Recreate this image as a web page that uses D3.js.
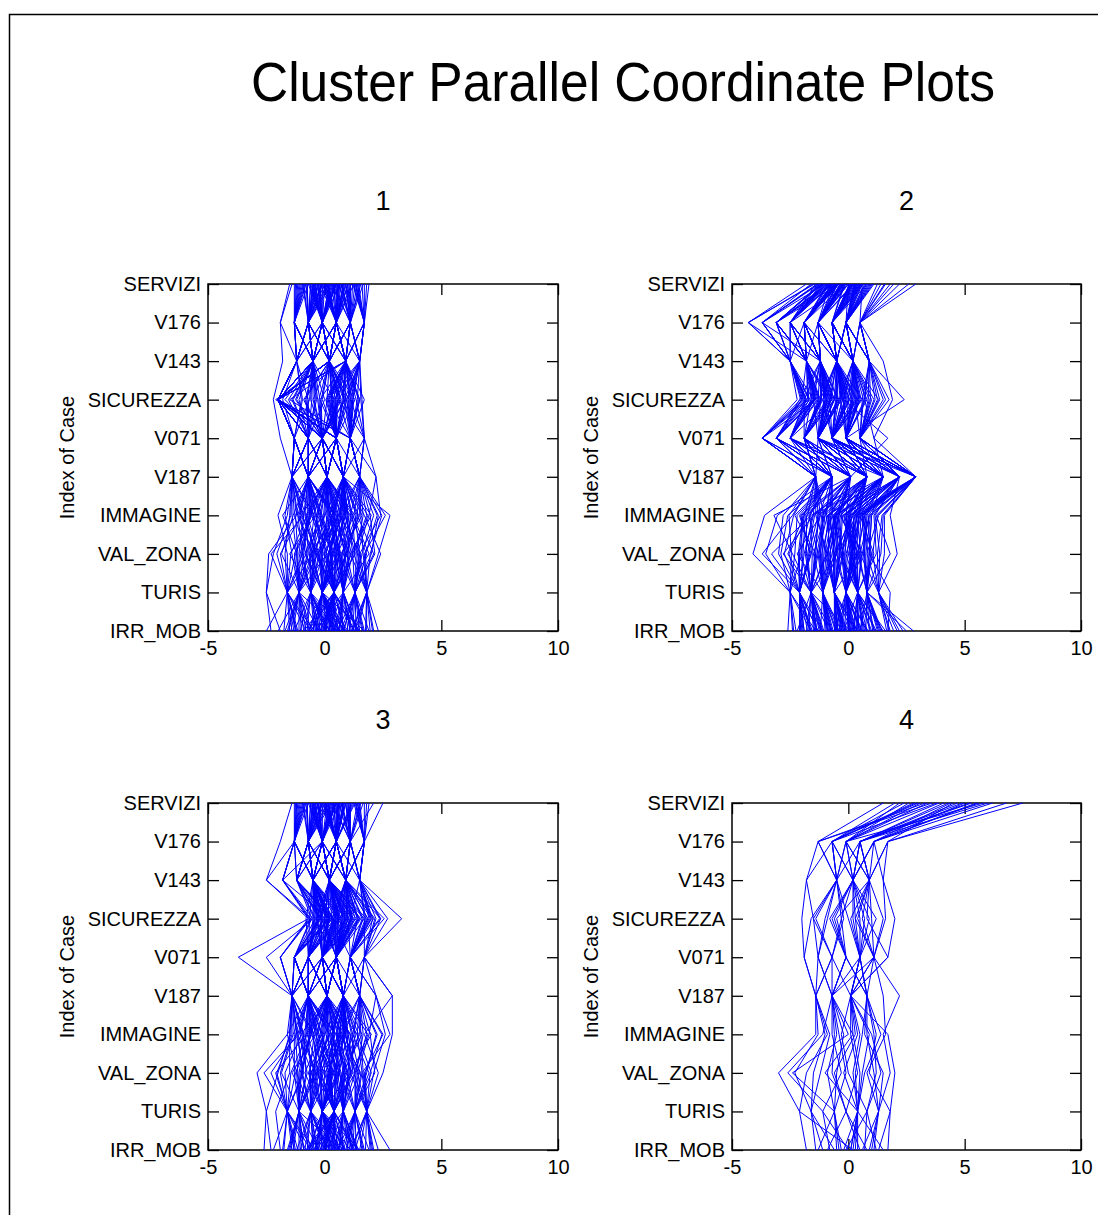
<!DOCTYPE html>
<html>
<head>
<meta charset="utf-8">
<script src="https://cdn.jsdelivr.net/npm/d3@7/dist/d3.min.js"></script>
<style>
  html, body { margin: 0; padding: 0; background: #fff; }
  svg { display: block; font-family: "Liberation Sans", Arial, Helvetica, sans-serif; }
</style>
</head>
<body>
<svg id="chart" width="1098" height="1215"></svg>
<script>
// Variables, listed from the top of each panel to the bottom
const variables = ["SERVIZI", "V176", "V143", "SICUREZZA", "V071", "V187", "IMMAGINE", "VAL_ZONA", "TURIS", "IRR_MOB"];
const xTicks = [-5, 0, 5, 10];
const clusterNames = ["1", "2", "3", "4"];

// Standardised scores per case, in the order of `variables`
const cluster1 = [
  [0.3,-0.1,0.2,-2.0,-0.1,0.1,0.5,0.2,-0.1,0.4],
  [1.2,1.1,0.9,0.6,1.1,0.8,1.4,0.9,0.8,1.1],
  [-0.8,-0.7,-0.5,-2.0,-0.7,-1.4,-0.9,-1.1,-0.6,-0.3],
  [0.6,0.5,0.2,0.3,0.5,0.1,0.2,0.6,0.4,0.9],
  [-0.2,-0.1,-0.5,-1.2,-0.1,-0.7,-0.4,0.1,-1.1,-0.8],
  [1.6,1.7,1.5,1.2,1.1,1.5,2.1,1.6,1.3,1.5],
  [0.1,0.5,0.9,-2.0,0.5,0.8,0.9,0.3,0.4,-0.2],
  [-1.3,-1.3,-1.2,-2.0,-1.3,-1.4,-1.5,-1.7,-1.6,-1.2],
  [0.9,1.1,0.2,0.9,-0.1,0.1,1.2,1.9,0.8,0.6],
  [0.4,-0.1,-0.5,-0.4,-0.7,-0.7,0.3,-0.2,-0.1,1.7],
  [-0.5,-0.7,0.2,-2.0,0.5,0.1,-0.8,-0.4,-0.6,0.2],
  [1.0,0.5,0.9,1.5,1.1,1.5,1.8,1.2,1.3,0.8],
  [-1.1,-1.3,-0.5,-0.8,-0.7,-1.4,-1.2,-2.4,-2.5,-1.9],
  [0.7,1.1,1.5,0.4,0.5,0.8,0.4,0.9,0.4,1.3],
  [0.0,-0.1,0.2,-2.0,-0.1,0.1,-0.3,-0.6,-0.1,-0.5],
  [1.9,1.7,0.9,1.7,1.1,0.8,2.8,2.3,1.8,2.3],
  [-0.4,-0.7,-1.2,-2.0,-1.3,-0.7,-0.6,-1.3,-1.1,-1.0],
  [0.5,0.5,0.2,-0.1,0.5,0.8,1.0,0.5,0.4,0.3],
  [-1.5,-1.9,-1.8,-2.2,-1.9,-1.4,-2.0,-1.6,-1.6,-2.5],
  [1.3,1.1,0.9,0.8,0.5,1.5,2.3,2.0,1.3,1.6],
  [0.2,-0.1,-0.5,-2.0,-0.7,0.1,0.6,-0.2,-0.6,0.0],
  [-0.6,-0.7,0.2,0.1,-0.1,-0.7,-0.1,0.4,-0.1,-0.7],
  [0.8,0.5,0.9,-2.0,1.1,0.8,0.2,1.1,0.8,0.5],
  [-0.1,0.5,-0.5,-0.6,-0.1,0.1,-0.7,-0.9,-1.1,0.7],
  [1.4,1.7,1.5,1.1,1.7,2.2,1.9,1.4,1.8,1.2],
  [-0.9,-1.3,-1.2,-2.0,-1.3,-0.7,-1.1,-0.5,-1.6,-1.4],
  [0.5,-0.1,0.2,0.6,-0.1,0.8,0.8,0.0,0.4,-0.3],
  [-0.3,-0.7,-0.5,-2.0,0.5,0.1,0.0,-0.8,-0.1,0.6],
  [1.1,1.1,0.2,1.3,0.5,0.1,1.3,1.5,1.3,1.9],
  [0.0,0.5,0.9,-1.5,1.1,1.5,0.6,-0.3,0.4,-0.9],
  [-0.7,-0.1,-0.5,-2.0,-0.7,-1.4,-1.4,-1.2,-1.1,-1.6],
  [0.6,1.1,0.9,0.2,0.5,0.8,1.6,0.7,0.8,1.0],
  [0.3,-0.7,-1.2,-1.0,-1.3,-0.7,-0.5,0.2,-0.6,0.1],
  [1.7,1.7,1.5,1.0,1.1,1.5,1.1,1.8,1.3,0.8],
  [-1.0,-1.3,-0.5,-2.0,-0.1,0.1,-1.0,-1.9,-1.6,-0.6],
  [0.9,0.5,0.2,0.7,-0.1,-0.7,0.4,0.6,0.8,1.4],
  [-0.2,-0.1,0.9,-0.2,0.5,0.8,0.7,1.0,-0.1,-0.4],
  [0.4,0.5,-0.5,-2.0,-0.7,-0.7,-0.2,0.3,0.4,0.2],
  [1.5,1.1,1.5,1.4,1.1,0.8,1.7,2.4,1.8,1.8],
  [-0.5,-0.1,0.2,-0.9,-0.1,-1.4,-0.8,-0.7,-1.1,-1.1],
  [0.2,-0.7,-0.5,0.0,-0.7,0.1,0.1,-0.1,-0.1,0.5],
  [-1.2,-1.3,-1.2,-2.0,-1.3,-1.4,-1.7,-1.4,-1.1,-2.0],
  [0.7,1.1,0.9,0.5,0.5,0.1,0.9,1.3,0.4,-0.1],
  [1.0,0.5,0.2,-2.0,1.1,1.5,1.5,0.8,1.3,1.2],
  [-0.4,-0.1,-0.5,-0.3,-0.1,0.1,-0.6,-1.0,-0.6,-1.3],
  [0.1,0.5,0.9,0.9,0.5,0.8,0.3,0.5,-0.1,0.8],
  [-0.8,-1.3,-0.5,-2.0,-0.7,-0.7,-0.9,-2.3,-1.6,-0.8],
  [1.2,1.7,1.5,1.6,1.7,1.5,2.6,1.7,1.8,2.1],
  [0.5,-0.1,0.2,-0.5,-0.1,0.8,0.0,-0.4,0.4,0.0],
  [-0.1,-0.7,-1.2,-2.0,-1.3,-1.4,-1.3,-0.8,-1.6,-1.5],
  [0.8,0.5,0.9,0.1,0.5,0.1,1.1,1.0,0.8,0.4],
  [0.3,1.1,0.2,-2.0,-0.1,0.8,0.2,0.7,-0.1,1.0],
  [-0.6,-0.1,-0.5,-1.4,-0.7,-0.7,-0.4,-1.5,-0.6,-0.2],
  [1.4,1.1,1.5,1.2,1.1,1.5,1.4,2.1,1.3,1.7],
  [0.0,-0.7,0.2,-2.1,0.5,0.1,-0.5,0.1,0.4,-0.6],
  [-1.4,-1.9,-1.2,-1.8,-1.3,-1.4,-1.6,-2.2,-2.5,-2.3],
  [0.6,0.5,-0.5,0.4,-0.1,0.1,0.7,0.2,-0.1,0.3],
  [1.8,1.7,0.9,1.5,1.1,2.2,2.4,1.5,1.8,1.4],
  [-0.3,-0.1,0.2,-2.0,-0.1,-0.7,0.3,-0.5,-0.6,0.9],
  [0.4,0.5,0.9,0.8,0.5,0.8,0.9,0.4,0.8,-0.4],
  [-0.9,-0.7,-0.5,-2.0,-1.3,-0.7,-1.8,-1.2,-1.1,-0.9],
  [1.1,1.1,0.2,0.3,0.5,0.8,1.2,1.3,0.4,1.5],
  [0.2,-0.1,-1.2,-0.7,-0.7,0.1,-0.2,0.0,-0.1,0.1],
  [-0.2,0.5,0.2,-2.0,0.5,-0.7,0.5,0.9,0.4,-0.7],
  [0.9,0.5,0.9,1.1,1.1,1.5,0.8,0.6,1.3,0.7],
  [-0.7,-1.3,-0.5,-1.1,-0.7,-1.4,-1.0,-0.3,-1.1,-1.7],
  [0.5,-0.1,0.2,-2.0,-0.1,0.1,0.4,-0.6,-0.6,0.2],
  [1.3,1.7,1.5,0.6,1.7,0.8,2.0,1.1,1.8,1.3],
  [-0.1,-0.7,-0.5,-0.2,-0.1,0.1,-0.3,0.3,-0.1,-0.5],
  [0.7,0.5,0.2,-2.0,0.5,0.8,1.0,1.2,0.8,0.6],
  [0.15,0.5,-0.5,-1.7,-0.1,0.8,0.35,-0.15,0.4,0.55],
  [-0.45,-0.1,0.2,0.45,0.5,-0.7,-0.25,0.65,-0.1,-0.15],
  [1.05,1.1,1.5,0.95,1.1,1.5,1.65,1.35,1.3,1.05],
  [-0.95,-0.7,-1.2,-2.0,-0.7,-1.4,-1.15,-0.95,-1.6,-1.25],
  [0.65,-0.1,0.9,0.25,0.5,0.1,0.55,0.85,0.8,0.15],
  [-0.25,-0.7,-0.5,-0.65,-1.3,-0.7,-0.85,-0.45,-0.6,0.45],
  [1.45,1.7,0.9,1.35,1.7,1.5,2.25,1.75,1.8,1.95],
  [0.05,0.5,0.2,-2.0,-0.1,0.1,-0.15,0.35,-0.1,-0.35],
  [-1.25,-1.3,-0.5,-1.55,-0.7,-0.7,-1.35,-1.85,-1.1,-1.55],
  [0.85,0.5,0.2,0.55,0.5,0.8,0.75,0.15,0.4,1.25],
  [-0.55,-0.1,-1.2,-2.0,-1.3,-0.7,-0.65,-1.05,-1.1,-0.65],
  [0.35,1.1,0.9,0.75,0.5,0.1,1.05,0.45,0.8,0.65],
  [1.25,0.5,1.5,0.15,1.1,0.8,0.65,1.55,1.3,1.35],
  [-0.75,-0.7,0.2,-2.0,-0.1,-1.4,-0.45,-0.65,-0.6,-1.05],
  [0.45,-0.1,-0.5,-0.35,-0.7,0.1,0.15,-0.25,-0.1,0.85],
  [-0.05,0.5,0.2,1.05,0.5,0.8,1.35,0.75,0.4,-0.05],
  [1.65,1.1,0.9,1.45,1.1,1.5,1.95,2.15,1.3,1.65],
  [-1.05,-1.3,-1.2,-2.0,-1.3,-0.7,-0.75,-1.45,-1.6,-0.45],
  [0.25,-0.1,0.2,-0.85,-0.1,0.1,0.45,0.05,0.4,0.35],
  [0.75,1.1,0.2,0.65,-0.1,0.8,0.95,1.05,0.8,0.75],
  [-0.35,-0.7,-0.5,-2.0,-0.7,0.1,-0.35,-0.15,-0.1,-0.25],
  [1.15,0.5,0.9,1.25,1.1,1.5,1.25,0.55,0.8,1.45],
  [-0.65,-0.1,-0.5,-1.25,-0.1,-0.7,-1.05,-0.75,-1.1,-1.35],
  [0.55,0.5,0.9,0.35,0.5,0.8,0.65,0.95,0.4,0.05],
  [-0.15,-0.7,-1.2,-2.0,-1.3,-1.4,-0.95,-0.35,-0.6,-0.75],
  [1.35,1.7,1.5,0.85,1.1,0.8,1.85,1.25,1.8,1.15],
  [0.0,0.5,-0.5,-0.45,-0.1,0.1,-0.05,-0.55,-0.1,0.25],
  [-0.85,-1.3,-0.5,-2.0,-0.7,-0.7,-1.25,-1.15,-1.1,-0.55],
  [0.95,1.1,0.9,0.45,0.5,0.8,0.85,1.45,1.3,0.95],
  [0.35,-0.1,0.2,-2.0,0.5,0.1,0.25,0.45,0.4,-0.15],
  [-0.45,-0.7,0.2,-0.15,-0.1,-0.7,-0.55,-0.05,-0.6,-0.85],
  [1.55,1.1,1.5,1.55,1.7,1.5,2.45,1.95,1.8,2.05],
  [0.15,0.5,0.9,0.05,0.5,0.8,0.55,0.25,0.4,0.45],
  [-1.15,-1.3,-1.2,-2.0,-1.3,-1.4,-1.45,-2.05,-1.6,-1.75],
  [0.65,0.5,0.2,0.85,-0.1,0.1,0.35,0.65,0.8,1.15],
  [-0.25,-0.1,-0.5,-2.0,-0.7,-0.7,-0.15,-0.85,-0.1,0.35],
  [1.0,1.1,0.9,1.15,1.1,0.8,1.45,0.95,1.3,0.55],
  [-0.6,-0.7,-0.5,-0.55,-0.7,0.1,-0.75,-0.25,-0.6,-0.45],
  [0.45,-0.1,0.2,-2.0,-0.1,0.8,0.65,0.15,-0.1,0.65],
  [-0.95,-1.3,-0.5,-1.35,-0.7,-1.4,-0.55,-1.25,-1.6,-1.15],
  [0.8,0.5,0.9,0.15,0.5,0.1,0.75,1.15,0.4,0.85],
  [0.1,-0.7,-1.2,-2.0,-1.3,-0.7,-0.35,-0.45,-1.1,-0.25],
  [1.25,1.7,0.9,1.05,1.1,1.5,1.55,1.65,1.8,1.75],
  [-0.3,-0.1,0.2,-0.25,-0.1,0.1,0.05,0.55,-0.1,-0.65],
  [0.55,0.5,-0.5,-2.0,0.5,-0.7,0.45,-0.35,0.4,0.15],
  [-0.75,-0.7,-0.5,-0.75,-0.7,-0.7,-1.15,-0.55,-1.1,-1.45],
  [0.9,1.1,0.2,0.95,0.5,0.8,1.15,0.75,0.8,1.35],
  [-0.1,-0.1,0.9,-2.0,0.5,0.1,0.15,0.25,0.4,-0.05],
  [0.3,0.5,0.2,0.35,-0.1,0.8,0.85,0.35,-0.1,0.45],
  [-0.5,-0.7,-1.2,-0.95,-1.3,-0.7,-0.65,-0.95,-0.6,-0.35]
];

const cluster2 = [
  [-0.5,-1.9,-1.2,-0.8,-1.3,0.8,-0.6,-0.9,-0.6,-0.2],
  [0.2,-0.7,-0.5,0.3,-0.7,2.2,0.1,-0.3,-0.1,0.5],
  [-1.2,-3.1,-1.8,-1.5,-3.1,-0.7,-2.1,-1.6,-2.1,-1.1],
  [0.6,0.5,0.2,0.9,0.5,2.9,0.7,0.4,0.4,1.2],
  [-0.8,-1.3,-0.5,-1.1,-1.9,0.1,-1.2,-2.2,-1.1,-0.7],
  [2.9,0.5,0.9,2.4,-0.1,2.9,1.0,0.9,0.8,2.8],
  [-0.1,-2.5,-1.2,-0.4,-1.3,1.5,-0.9,-0.5,-1.6,0.1],
  [-1.8,-4.3,-2.5,-2.2,-3.7,-1.4,-3.6,-4.1,-2.5,-2.6],
  [0.4,-0.1,0.2,-0.2,-0.1,0.8,0.3,0.2,-0.1,-0.4],
  [-0.6,-1.9,-1.8,-1.3,-2.5,-0.7,-1.7,-1.3,-1.6,-1.5],
  [1.1,-0.1,-0.5,0.6,-0.7,2.9,0.5,1.1,0.4,1.6],
  [-0.3,-1.3,-0.5,-0.6,-1.3,0.1,-0.4,-0.8,-0.6,0.3],
  [-1.0,-3.7,-2.5,-1.8,-3.7,-1.4,-2.8,-3.0,-2.1,-1.9],
  [0.1,-0.7,0.2,0.1,-0.1,1.5,0.0,0.5,-0.1,0.8],
  [-0.7,-1.9,-1.2,-1.6,-1.9,0.8,-1.0,-1.5,-1.1,-0.9],
  [1.8,0.5,0.9,1.6,0.5,2.2,1.8,2.1,1.3,2.1],
  [-0.2,-1.3,-1.8,-0.9,-1.3,-0.7,-0.7,-0.2,-0.6,-0.3],
  [-1.4,-2.5,-2.5,-2.0,-3.1,0.1,-1.9,-2.6,-1.6,-2.2],
  [0.3,-0.1,-0.5,0.4,-0.7,2.9,0.4,-0.1,0.4,0.6],
  [-0.9,-1.9,-1.2,-1.2,-1.9,-1.4,-1.5,-1.9,-2.1,-1.3],
  [0.8,-0.7,0.2,1.1,0.5,1.5,0.8,0.7,0.8,1.4],
  [-0.4,-3.1,-1.8,-0.7,-2.5,0.8,-1.1,-1.1,-1.1,-0.5],
  [0.0,-1.3,-0.5,-0.3,-1.3,2.2,-0.2,0.1,-0.1,0.0],
  [-1.1,-2.5,-1.2,-1.9,-1.9,-0.7,-2.3,-1.4,-1.6,-1.7],
  [1.4,0.5,1.5,1.9,1.1,2.9,1.5,1.4,0.8,2.5],
  [-0.6,-1.3,-1.2,-1.0,-1.3,0.1,-0.8,-0.6,-1.1,-0.8],
  [0.5,-0.1,0.2,0.0,-0.1,0.8,0.2,-0.4,0.4,0.2],
  [-1.5,-4.3,-1.8,-1.4,-3.7,-0.7,-2.6,-2.9,-2.5,-1.4],
  [-0.2,-0.7,-0.5,-0.5,-0.7,1.5,-0.5,-0.9,-0.6,0.4],
  [0.9,-0.1,0.9,0.7,-0.1,2.9,0.9,0.6,0.4,1.0],
  [-0.8,-1.9,-2.5,-1.7,-2.5,-1.4,-1.3,-1.7,-2.1,-2.0],
  [0.2,-1.3,-0.5,-0.1,-0.7,0.8,-0.1,0.3,-0.1,-0.6],
  [-1.3,-3.7,-1.2,-2.1,-3.1,0.1,-3.2,-2.4,-1.6,-1.2],
  [0.6,-0.1,0.2,1.3,0.5,2.2,0.6,1.0,0.8,0.9],
  [-0.5,-1.9,-1.8,-0.8,-1.9,-0.7,-1.0,-1.2,-1.1,-1.0],
  [0.1,-0.7,-0.5,0.2,-0.7,1.5,0.2,-0.6,-0.1,0.3],
  [-0.9,-2.5,-1.2,-1.5,-1.3,0.8,-1.6,-3.3,-2.1,-1.6],
  [1.6,0.5,0.2,0.5,-0.1,2.9,1.3,0.8,1.3,1.8],
  [-0.3,-1.3,-1.2,-0.6,-1.9,0.1,-0.3,-0.4,-0.6,-0.1],
  [-0.7,-1.9,-0.5,-1.2,-1.3,-1.4,-1.4,-0.9,-1.6,-0.7],
  [0.4,-0.7,0.2,0.3,0.5,0.8,0.0,0.2,0.4,0.7],
  [-1.1,-3.1,-2.5,-1.8,-2.5,-0.7,-2.0,-2.0,-2.5,-2.4],
  [0.0,-0.1,-0.5,-0.2,-0.1,2.2,-0.6,-0.2,-0.1,-0.3],
  [-0.5,-1.3,-1.2,-1.0,-1.3,1.5,-0.9,-1.3,-1.1,-0.4],
  [2.2,0.5,0.9,1.5,0.5,2.9,1.2,1.8,0.8,1.3],
  [-0.8,-2.5,-1.8,-1.4,-3.1,0.1,-1.8,-1.8,-1.6,-1.1],
  [0.3,-0.7,-0.5,0.0,-0.7,0.8,0.4,0.0,0.4,-0.2],
  [-0.1,-1.3,0.2,-0.4,-0.7,2.2,-0.2,0.6,-0.1,0.6],
  [-1.6,-3.7,-2.5,-1.9,-3.7,-1.4,-2.4,-3.7,-2.1,-2.1],
  [0.7,-0.1,0.2,0.8,-0.1,1.5,0.7,0.4,0.8,1.1],
  [-0.4,-1.9,-1.2,-0.7,-1.9,-0.7,-0.7,-1.0,-0.6,-0.6],
  [0.2,-0.7,-0.5,-0.3,-1.3,2.9,0.1,-0.5,-0.1,0.2],
  [-1.0,-2.5,-1.8,-1.6,-2.5,0.8,-1.3,-1.4,-1.6,-1.8],
  [1.0,-0.1,0.9,0.6,0.5,2.2,1.1,1.2,0.4,1.5],
  [-0.2,-1.3,-0.5,-1.1,-0.7,0.1,-0.4,-0.7,-1.1,-0.9],
  [-0.6,-1.9,-1.2,-1.3,-1.9,-1.4,-1.2,-1.6,-2.1,-1.3],
  [0.5,-0.7,0.2,0.2,-0.1,1.5,0.5,0.1,0.4,0.4],
  [-1.2,-3.1,-1.8,-2.0,-3.1,-0.7,-2.2,-2.3,-2.5,-1.6],
  [0.0,-1.3,-0.5,-0.5,-0.7,0.8,-0.3,0.3,-0.1,0.0],
  [2.6,0.5,0.2,1.0,0.5,2.9,0.9,0.5,1.3,2.2],
  [-0.7,-2.5,-1.2,-0.9,-1.3,0.1,-1.1,-1.2,-1.1,-1.2],
  [0.3,-0.1,-0.5,-0.1,-0.7,2.2,0.3,-0.3,0.4,0.8],
  [-0.4,-1.9,-1.8,-1.2,-1.9,-0.7,-0.8,-0.6,-0.6,-0.5],
  [-0.9,-3.1,-2.5,-1.5,-2.5,1.5,-1.5,-2.8,-1.6,-1.4],
  [0.6,-0.7,0.2,0.4,-0.1,2.9,0.6,0.7,0.8,0.5],
  [-0.2,-1.3,-1.2,-0.6,-1.3,0.8,-0.5,-0.8,-0.6,-0.2],
  [-1.3,-2.5,-1.8,-1.7,-3.7,-1.4,-1.9,-2.1,-2.1,-1.9],
  [0.1,-0.7,-0.5,-0.2,1.7,0.1,-0.1,0.2,-0.1,0.1],
  [-0.5,-1.3,-0.5,-0.8,-0.7,2.2,-0.6,-0.5,-1.1,-0.3],
  [0.8,-0.1,0.9,0.7,1.1,1.5,1.0,0.9,1.8,1.7],
  [-0.35,-1.3,-0.5,-0.45,-1.3,1.5,-0.35,-0.55,-0.6,0.15],
  [0.45,-0.7,0.2,0.55,-0.7,2.9,0.45,0.25,0.4,0.95],
  [-1.05,-2.5,-1.8,-1.35,-2.5,0.1,-1.45,-1.75,-1.6,-1.25],
  [-0.15,-1.9,-1.2,-0.95,-1.9,0.8,-0.85,-1.05,-1.1,-0.55],
  [0.75,-0.1,0.2,0.35,-0.1,2.2,0.65,0.85,0.8,1.35],
  [-0.65,-3.1,-1.8,-1.75,-3.1,-0.7,-1.95,-2.15,-2.1,-1.65],
  [0.05,-0.7,-0.5,-0.15,-0.7,1.5,-0.05,-0.25,-0.1,0.25],
  [-0.45,-1.3,-1.2,-0.75,-1.3,0.8,-0.65,-0.35,-0.6,-0.45],
  [1.25,0.5,0.9,1.15,0.5,2.9,1.25,1.05,1.3,1.75],
  [-0.85,-1.9,-1.8,-1.45,-2.5,-0.7,-1.25,-1.45,-1.6,-1.05],
  [0.25,-0.1,-0.5,0.15,-0.1,2.2,0.25,0.05,0.4,0.45],
  [-1.35,-3.7,-2.5,-1.95,-3.7,-1.4,-2.55,-2.45,-2.5,-2.25],
  [-0.25,-1.3,-0.5,-0.55,-0.7,1.5,-0.45,-0.65,-0.6,-0.15],
  [0.55,-0.7,0.2,0.75,-0.1,2.9,0.55,0.45,0.8,0.75],
  [-0.75,-2.5,-1.2,-1.15,-1.9,0.1,-1.15,-1.25,-1.1,-0.85],
  [0.15,-0.7,-0.5,0.05,-0.7,0.8,0.05,-0.15,-0.1,0.35],
  [-0.55,-1.9,-1.2,-1.05,-1.3,-0.7,-0.95,-0.75,-1.1,-0.65],
  [1.05,-0.1,0.9,0.95,0.5,2.2,0.95,0.75,0.8,1.25],
  [-1.15,-3.1,-2.5,-1.65,-3.1,-1.4,-1.75,-2.55,-2.1,-1.75],
  [-0.05,-1.3,-0.5,-0.25,-0.7,1.5,-0.15,0.15,-0.1,0.05],
  [0.35,-0.1,0.2,0.45,-0.1,2.9,0.35,0.55,0.4,0.65],
  [-0.65,-1.9,-1.8,-1.25,-1.9,0.1,-1.35,-0.95,-1.6,-1.15],
  [-1.45,-4.3,-2.5,-2.05,-3.7,-0.7,-3.05,-3.55,-2.5,-2.35],
  [0.65,-0.7,0.2,0.65,0.5,2.2,0.75,0.65,0.8,1.05],
  [-0.35,-1.3,-1.2,-0.65,-1.3,0.8,-0.55,-0.45,-0.6,-0.35],
  [-0.95,-2.5,-1.8,-1.55,-2.5,-0.7,-1.65,-1.55,-1.6,-1.45],
  [0.25,-0.7,-0.5,-0.05,-0.7,1.5,0.15,-0.05,-0.1,0.55],
  [1.55,0.5,0.9,1.35,0.5,2.9,1.45,1.25,1.3,1.95],
  [-0.45,-1.9,-1.2,-0.85,-1.9,0.1,-0.75,-1.15,-1.1,-0.75],
  [-0.15,-1.3,-0.5,-0.35,-1.3,2.2,-0.25,-0.35,-0.6,-0.05],
  [0.45,-0.1,0.2,0.25,-0.1,0.8,0.45,0.35,0.4,0.25],
  [-0.75,-3.1,-1.8,-1.45,-2.5,0.8,-1.55,-1.85,-1.6,-1.35],
  [-1.25,-3.7,-2.5,-1.85,-3.1,-1.4,-2.35,-2.75,-2.1,-1.95],
  [0.15,-0.7,-0.5,0.35,-0.7,2.9,0.25,0.15,-0.1,0.85],
  [-0.55,-1.9,-1.2,-0.95,-1.3,1.5,-0.85,-0.85,-1.1,-0.95],
  [0.85,-0.1,0.9,0.85,0.5,2.2,0.85,0.95,0.8,1.45],
  [-0.25,-1.3,-1.2,-0.45,-1.3,0.1,-0.45,-0.25,-0.6,-0.25],
  [-1.05,-2.5,-1.8,-1.25,-1.9,-0.7,-1.85,-1.95,-2.1,-1.55],
  [0.35,-0.7,0.2,0.15,-0.1,1.5,0.35,0.25,0.4,0.35],
  [-0.65,-1.9,-0.5,-0.75,-1.3,0.8,-0.65,-0.65,-0.6,-0.55],
  [1.95,0.5,0.9,1.75,0.5,2.9,1.55,1.55,1.3,2.35],
  [-0.35,-1.3,-0.5,-0.95,-0.7,0.1,-0.55,-0.95,-1.1,-0.75],
  [-0.85,-3.1,-1.8,-1.45,-3.1,-0.7,-1.65,-2.05,-1.6,-1.35],
  [0.05,-0.7,-0.5,-0.25,-0.7,2.2,0.05,0.35,-0.1,-0.15],
  [0.55,-0.1,0.2,0.45,-0.1,2.9,0.55,0.15,0.4,1.15],
  [-0.45,-1.9,-1.2,-1.15,-1.9,-1.4,-1.05,-1.35,-1.6,-0.85],
  [-1.15,-2.5,-2.5,-1.85,-2.5,0.1,-2.05,-1.65,-2.1,-2.05],
  [0.25,-1.3,-0.5,0.05,-0.7,0.8,-0.05,-0.15,-0.1,0.15],
  [-0.15,-0.7,0.2,-0.35,-0.1,1.5,-0.35,0.45,-0.6,-0.45],
  [0.95,-0.1,0.9,1.25,0.5,2.2,1.15,1.35,1.3,1.65]
];

const cluster3 = [
  [0.3,-0.1,0.2,0.5,-0.1,0.1,0.4,0.2,-0.1,0.3],
  [1.1,1.1,0.9,1.6,1.1,0.8,1.3,1.1,0.8,1.2],
  [-0.8,-0.7,-0.5,-0.3,-0.7,-1.4,-0.9,-1.2,-0.6,-0.5],
  [0.6,0.5,0.2,0.9,0.5,0.1,0.6,0.5,0.4,0.8],
  [-0.3,-0.1,-1.8,0.2,-1.3,-0.7,-0.5,-0.3,-1.1,-0.9],
  [2.5,1.7,1.5,3.3,1.7,2.9,2.9,2.5,1.8,2.8],
  [0.0,0.5,0.9,0.7,0.5,0.8,0.8,0.1,0.4,-0.3],
  [-1.4,-1.9,-2.5,-0.7,-3.7,-1.4,-1.6,-2.9,-2.5,-2.6],
  [0.9,1.1,0.2,1.2,-0.1,0.1,1.1,1.5,0.8,0.6],
  [0.4,-0.1,-0.5,0.3,-0.7,-0.7,0.2,-0.4,-0.1,1.5],
  [-0.5,-0.7,0.2,0.0,0.5,0.1,-0.7,-0.6,-0.6,0.1],
  [1.3,0.5,0.9,2.0,1.1,1.5,1.8,1.3,1.3,0.9],
  [-1.1,-1.3,-1.8,-0.5,-2.5,-1.4,-1.2,-2.3,-1.6,-1.8],
  [0.7,1.1,1.5,1.1,0.5,0.8,0.5,0.9,0.4,1.3],
  [0.1,-0.1,0.2,0.4,-0.1,0.1,-0.2,-0.5,-0.1,-0.4],
  [1.9,1.7,0.9,2.4,1.1,2.2,2.6,2.1,1.8,2.3],
  [-0.4,-0.7,-1.2,-0.2,-1.3,-0.7,-0.6,-1.0,-1.1,-1.1],
  [0.5,0.5,0.2,0.8,0.5,0.8,1.0,0.6,0.4,0.4],
  [-1.2,-1.3,-2.5,-0.6,-1.9,-1.4,-1.4,-1.9,-1.6,-2.2],
  [1.4,1.1,0.9,1.4,0.5,1.5,2.2,1.8,1.3,1.7],
  [0.2,-0.1,-0.5,0.1,-0.7,0.1,0.7,-0.1,-0.6,0.0],
  [-0.6,-0.7,0.2,0.6,-0.1,-0.7,-0.1,0.3,-0.1,-0.7],
  [0.8,0.5,0.9,1.0,1.1,0.8,0.3,1.0,0.8,0.5],
  [-0.1,0.5,-0.5,0.2,-0.1,0.1,-0.8,-1.1,-1.1,0.7],
  [1.5,1.7,1.5,2.2,1.7,2.2,1.9,1.4,1.8,1.1],
  [-0.9,-1.3,-1.2,-0.4,-1.3,-0.7,-1.1,-2.6,-1.6,-1.3],
  [0.5,-0.1,0.2,0.9,-0.1,0.8,0.9,0.0,0.4,-0.2],
  [-0.3,-0.7,-0.5,-0.1,0.5,0.1,0.0,-0.7,-0.1,0.6],
  [1.0,1.1,0.2,1.7,0.5,0.1,1.4,1.6,1.3,1.9],
  [0.0,0.5,0.9,0.3,1.1,1.5,0.6,-0.2,0.4,-0.8],
  [-0.7,-0.1,-0.5,-0.8,-0.7,-1.4,-1.3,-1.3,-1.1,-1.5],
  [0.6,1.1,0.9,1.3,0.5,0.8,1.6,0.8,0.8,1.0],
  [0.3,-0.7,-1.2,0.0,-1.3,-0.7,-0.4,0.3,-0.6,0.2],
  [1.7,1.7,1.5,1.9,1.1,1.5,1.2,1.9,1.3,0.8],
  [-1.0,-1.3,-0.5,-0.3,-0.1,0.1,-1.0,-1.7,-1.6,-0.6],
  [0.9,0.5,0.2,1.5,-0.1,-0.7,0.3,0.7,0.8,1.4],
  [-0.2,-0.1,0.9,0.4,0.5,0.8,0.8,1.1,-0.1,-0.3],
  [0.4,0.5,-0.5,0.6,-0.7,-0.7,-0.3,0.2,0.4,0.3],
  [2.1,1.1,1.5,2.7,1.7,2.9,1.7,2.3,1.8,2.0],
  [-0.5,-0.1,0.2,-0.2,-0.1,-1.4,-0.9,-0.8,-1.1,-1.0],
  [0.2,-0.7,-0.5,0.5,-0.7,0.1,0.1,-0.2,-0.1,0.5],
  [-1.3,-1.3,-1.8,-0.6,-1.3,-1.4,-1.5,-1.5,-2.1,-1.9],
  [0.7,1.1,0.9,1.1,0.5,0.1,0.9,1.3,0.4,-0.1],
  [1.2,0.5,0.2,1.8,1.1,1.5,1.5,0.8,1.3,1.2],
  [-0.4,-0.1,-0.5,0.1,-0.1,0.1,-0.6,-1.0,-0.6,-1.2],
  [0.1,0.5,0.9,1.0,0.5,0.8,0.2,0.5,-0.1,0.9],
  [-0.8,-1.3,-0.5,-0.5,-0.7,-0.7,-0.8,-2.1,-1.6,-0.8],
  [1.3,1.7,1.5,2.4,1.7,1.5,2.5,1.7,1.8,2.1],
  [0.5,-0.1,0.2,0.7,-0.1,0.8,0.0,-0.3,0.4,0.0],
  [-0.1,-0.7,-1.2,0.2,-1.3,-1.4,-1.2,-0.9,-1.6,-1.4],
  [0.8,0.5,0.9,1.2,0.5,0.1,1.1,1.0,0.8,0.4],
  [0.3,1.1,0.2,0.8,-0.1,0.8,0.3,0.6,-0.1,1.1],
  [-0.6,-0.1,-0.5,-0.4,-0.7,-0.7,-0.4,-1.4,-0.6,-0.3],
  [1.5,1.1,1.5,2.0,1.1,1.5,1.4,2.0,1.3,1.6],
  [0.0,-0.7,0.2,0.3,0.5,0.1,-0.5,0.2,0.4,-0.6],
  [-1.2,-1.3,-1.8,-0.7,-1.9,-1.4,-1.5,-2.0,-2.5,-2.3],
  [0.6,0.5,-0.5,0.9,-0.1,0.1,0.7,0.3,-0.1,0.2],
  [1.8,1.7,0.9,2.1,1.1,2.2,2.8,1.6,1.8,1.5],
  [-0.3,-0.1,0.2,0.0,-0.1,-0.7,0.2,-0.5,-0.6,0.8],
  [0.4,0.5,0.9,1.1,0.5,0.8,0.9,0.4,0.8,-0.5],
  [-0.9,-0.7,-0.5,-0.2,-1.3,-0.7,-1.6,-1.2,-1.1,-0.9],
  [1.1,1.1,0.2,1.5,0.5,0.8,1.2,1.2,0.4,1.4],
  [0.2,-0.1,-1.2,0.4,-0.7,0.1,-0.1,0.0,-0.1,0.1],
  [-0.2,0.5,0.2,0.6,0.5,-0.7,0.5,0.8,0.4,-0.7],
  [0.9,0.5,0.9,1.4,1.1,1.5,0.8,0.6,1.3,0.7],
  [-0.7,-1.3,-0.5,-0.1,-0.7,-1.4,-1.0,-0.4,-1.1,-1.6],
  [0.5,-0.1,0.2,0.5,-0.1,0.1,0.4,-0.6,-0.6,0.2],
  [1.4,1.7,1.5,1.7,1.7,0.8,2.0,1.1,1.8,1.3],
  [-0.1,-0.7,-0.5,0.2,-0.1,0.1,-0.3,0.4,-0.1,-0.4],
  [0.7,0.5,0.2,1.0,0.5,0.8,1.0,1.3,0.8,0.6],
  [0.15,0.5,-0.5,0.35,-0.1,0.8,0.35,-0.15,0.4,0.55],
  [-0.45,-0.1,0.2,-0.15,0.5,-0.7,-0.25,0.65,-0.1,-0.15],
  [1.05,1.1,1.5,1.75,1.1,1.5,1.65,1.35,1.3,1.05],
  [-0.95,-0.7,-1.2,-0.45,-0.7,-1.4,-1.15,-0.95,-1.6,-1.25],
  [0.65,-0.1,0.9,0.95,0.5,0.1,0.55,0.85,0.8,0.15],
  [-0.25,-0.7,-0.5,0.15,-1.3,-0.7,-0.85,-0.45,-0.6,0.45],
  [1.45,1.7,0.9,2.15,1.7,1.5,2.25,1.75,1.8,1.95],
  [0.05,0.5,0.2,0.55,-0.1,0.1,-0.15,0.35,-0.1,-0.35],
  [-1.25,-1.3,-0.5,-0.65,-0.7,-0.7,-1.35,-1.85,-1.1,-1.55],
  [0.85,0.5,0.2,1.25,0.5,0.8,0.75,0.15,0.4,1.25],
  [-0.55,-0.1,-1.2,-0.25,-1.3,-0.7,-0.65,-1.05,-1.1,-0.65],
  [0.35,1.1,0.9,0.85,0.5,0.1,1.05,0.45,0.8,0.65],
  [1.25,0.5,1.5,1.95,1.1,0.8,0.65,1.55,1.3,1.35],
  [-0.75,-0.7,0.2,-0.35,-0.1,-1.4,-0.45,-0.65,-0.6,-1.05],
  [0.45,-0.1,-0.5,0.65,-0.7,0.1,0.15,-0.25,-0.1,0.85],
  [-0.05,0.5,0.2,1.15,0.5,0.8,1.35,0.75,0.4,-0.05],
  [1.65,1.1,0.9,2.55,1.1,1.5,1.95,2.15,1.3,1.65],
  [-1.05,-1.3,-1.2,-0.55,-1.3,-0.7,-0.75,-1.45,-1.6,-0.45],
  [0.25,-0.1,0.2,0.45,-0.1,0.1,0.45,0.05,0.4,0.35],
  [0.75,1.1,0.2,1.35,-0.1,0.8,0.95,1.05,0.8,0.75],
  [-0.35,-0.7,-0.5,0.05,-0.7,0.1,-0.35,-0.15,-0.1,-0.25],
  [1.15,0.5,0.9,1.85,1.1,1.5,1.25,0.55,0.8,1.45],
  [-0.65,-0.1,-0.5,-0.15,-0.1,-0.7,-1.05,-0.75,-1.1,-1.35],
  [0.55,0.5,0.9,0.75,0.5,0.8,0.65,0.95,0.4,0.05],
  [-0.15,-0.7,-1.2,0.25,-1.3,-1.4,-0.95,-0.35,-0.6,-0.75],
  [1.35,1.7,1.5,2.35,1.1,0.8,1.85,1.25,1.8,1.15],
  [0.0,0.5,-0.5,0.35,-0.1,0.1,-0.05,-0.55,-0.1,0.25],
  [-0.85,-1.3,-0.5,-0.45,-0.7,-0.7,-1.25,-1.15,-1.1,-0.55],
  [0.95,1.1,0.9,1.45,0.5,0.8,0.85,1.45,1.3,0.95],
  [0.35,-0.1,0.2,0.85,0.5,0.1,0.25,0.45,0.4,-0.15],
  [-0.45,-0.7,0.2,0.15,-0.1,-0.7,-0.55,-0.05,-0.6,-0.85],
  [1.55,1.1,1.5,2.05,1.7,1.5,2.45,1.95,1.8,2.05],
  [0.15,0.5,0.9,0.55,0.5,0.8,0.55,0.25,0.4,0.45],
  [-1.15,-1.3,-1.8,-0.65,-1.9,-1.4,-1.45,-2.05,-1.6,-1.75],
  [0.65,0.5,0.2,1.05,-0.1,0.1,0.35,0.65,0.8,1.15],
  [-0.25,-0.1,-0.5,0.25,-0.7,-0.7,-0.15,-0.85,-0.1,0.35],
  [1.0,1.1,0.9,1.65,1.1,0.8,1.45,0.95,1.3,0.55],
  [-0.6,-0.7,-0.5,-0.05,-0.7,0.1,-0.75,-0.25,-0.6,-0.45],
  [0.45,-0.1,0.2,0.95,-0.1,0.8,0.65,0.15,-0.1,0.65],
  [-0.95,-1.3,-0.5,-0.35,-0.7,-1.4,-0.55,-1.25,-1.6,-1.15],
  [0.8,0.5,0.9,1.15,0.5,0.1,0.75,1.15,0.4,0.85],
  [0.1,-0.7,-1.2,0.35,-1.3,-0.7,-0.35,-0.45,-1.1,-0.25],
  [1.25,1.7,0.9,1.85,1.1,1.5,1.55,1.65,1.8,1.75],
  [-0.3,-0.1,0.2,0.15,-0.1,0.1,0.05,0.55,-0.1,-0.65],
  [0.55,0.5,-0.5,0.75,0.5,-0.7,0.45,-0.35,0.4,0.15],
  [-0.75,-0.7,-0.5,-0.25,-0.7,-0.7,-1.15,-0.55,-1.1,-1.45],
  [0.9,1.1,0.2,1.55,0.5,0.8,1.15,0.75,0.8,1.35],
  [-0.1,-0.1,0.9,0.45,0.5,0.1,0.15,0.25,0.4,-0.05],
  [0.3,0.5,0.2,0.65,-0.1,0.8,0.85,0.35,-0.1,0.45],
  [-0.5,-0.7,-1.2,-0.15,-1.3,-0.7,-0.65,-0.95,-0.6,-0.35]
];

const cluster4 = [
  [7.5,1.7,0.9,0.3,1.1,-0.7,0.2,0.5,0.4,0.3],
  [6.2,1.1,1.5,2.0,1.7,0.1,1.7,2.0,1.8,1.7],
  [5.8,-0.1,-0.5,-1.5,-0.7,-1.4,-1.4,-3.0,-2.1,-1.8],
  [4.9,0.5,0.2,0.9,0.5,0.8,0.6,0.3,0.4,0.1],
  [3.6,-1.3,-1.8,-2.0,-1.9,-1.4,-0.8,-1.2,-1.6,-1.1],
  [5.3,0.5,0.9,0.4,1.1,2.2,1.5,1.8,1.3,1.1],
  [2.4,-0.7,0.2,-0.6,-0.1,-0.7,-0.2,-0.5,-0.6,-0.4],
  [4.4,1.1,0.2,1.2,0.5,0.1,1.0,1.4,0.8,0.7],
  [3.1,-0.1,-0.5,-0.9,-1.3,-0.7,-1.1,-2.6,-1.1,-0.8],
  [6.8,1.7,1.5,1.6,1.1,0.8,1.2,0.9,1.8,1.3],
  [2.9,-0.7,-0.5,-1.4,-0.7,-1.4,-0.9,-1.8,-2.1,0.2],
  [4.1,0.5,0.9,0.1,0.5,0.1,0.4,-0.2,0.4,-0.2],
  [5.6,1.1,0.2,-0.3,-0.1,0.8,0.8,1.1,1.3,0.9],
  [3.3,-1.3,-0.5,-1.0,-1.3,-0.7,-0.5,-0.9,-0.6,-1.3],
  [2.6,-0.1,0.9,0.6,1.1,0.1,0.1,0.4,-0.1,0.5],
  [4.7,0.5,-0.5,-1.6,-1.9,-1.4,-1.3,-2.3,-1.6,-0.6],
  [3.8,-0.7,0.2,0.2,0.5,0.8,1.4,0.7,0.4,1.5],
  [5.0,1.1,0.9,0.8,1.7,0.1,-0.3,0.0,0.8,-0.1],
  [2.2,-0.1,0.2,-0.7,-0.1,-0.7,-0.7,-0.3,-1.1,0.0],
  [6.0,0.5,0.2,0.5,0.5,0.8,0.7,1.5,1.3,0.6],
  [3.0,-0.7,-1.8,-1.5,-1.3,-1.4,-1.0,-1.5,-1.6,-1.4],
  [4.5,1.7,0.9,1.0,1.1,0.1,0.3,-0.6,-0.1,0.8],
  [1.5,-1.3,-0.5,-0.3,-0.7,0.1,0.5,0.2,0.4,0.4],
  [3.9,-0.1,0.2,0.7,0.5,-0.7,0.0,-2.4,-0.6,-0.3],
  [5.2,0.5,0.9,-0.5,-0.1,0.8,1.1,1.2,0.8,1.2],
  [2.8,-0.7,-0.5,-0.2,-0.7,-0.7,-0.6,-0.7,-0.1,-0.9],
  [4.3,0.5,0.2,0.3,0.5,0.1,0.9,0.6,0.4,0.2],
  [3.4,-0.1,0.9,1.5,1.1,1.5,1.6,0.8,1.3,1.0],
  [5.5,1.1,0.2,-0.8,-0.1,-0.7,-0.4,-0.1,-0.6,-0.5],
  [2.0,-0.7,-0.5,0.0,0.5,0.1,0.2,-1.0,0.4,0.1]
];

const clusters = [cluster1, cluster2, cluster3, cluster4];

// Panel frames (left, top) in a 2 x 2 grid
const panels = [
  { left: 208, top: 284, width: 350 },
  { left: 732, top: 284, width: 349 },
  { left: 208, top: 803, width: 350 },
  { left: 732, top: 803, width: 349 }
];
const panelHeight = 347;
const tickLen = 11;
const font = "'Liberation Sans', Arial, Helvetica, sans-serif";

const svg = d3.select("#chart");
svg.append("rect").attr("width", 1098).attr("height", 1215).attr("fill", "#fff");

// Outer figure border
svg.append("rect")
  .attr("x", 9.5).attr("y", 14.5)
  .attr("width", 1200).attr("height", 1300)
  .attr("fill", "none").attr("stroke", "#000").attr("stroke-width", 1.5);

svg.append("text")
  .attr("x", 623).attr("y", 101)
  .attr("text-anchor", "middle")
  .attr("font-family", font)
  .attr("font-size", 55)
  .attr("textLength", 744)
  .attr("lengthAdjust", "spacingAndGlyphs")
  .text("Cluster Parallel Coordinate Plots");

clusters.forEach((cases, ci) => {
  const p = panels[ci];
  const g = svg.append("g").attr("transform", `translate(${p.left},${p.top})`);

  const x = d3.scaleLinear().domain([-5, 10]).range([0, p.width]);
  const y = d3.scalePoint().domain(variables).range([0, panelHeight]);

  // Axis ticks (inward) and labels
  const styleAxis = sel => {
    sel.select(".domain").remove();
    sel.selectAll("line").attr("stroke", "#000").attr("stroke-width", 1.3);
    sel.selectAll("text").attr("font-family", font).attr("font-size", 20).attr("fill", "#000");
  };

  g.append("g")
    .call(d3.axisLeft(y).tickSize(-tickLen).tickSizeOuter(0).tickPadding(7))
    .call(styleAxis);
  g.append("g").attr("transform", `translate(${p.width},0)`)
    .call(d3.axisRight(y).tickSize(-tickLen).tickSizeOuter(0).tickFormat(""))
    .call(styleAxis);
  g.append("g").attr("transform", `translate(0,${panelHeight})`)
    .call(d3.axisBottom(x).tickValues(xTicks).tickSize(-tickLen).tickSizeOuter(0).tickPadding(10).tickFormat(d => String(d)))
    .call(styleAxis);
  g.append("g")
    .call(d3.axisTop(x).tickValues(xTicks).tickSize(-tickLen).tickSizeOuter(0).tickFormat(""))
    .call(styleAxis);

  g.append("rect")
    .attr("width", p.width).attr("height", panelHeight)
    .attr("fill", "none").attr("stroke", "#000").attr("stroke-width", 1.5);

  // One polyline per case
  const line = d3.line().x(d => x(d.value)).y(d => y(d.variable));
  g.append("g")
    .selectAll("path")
    .data(cases)
    .join("path")
    .attr("d", row => line(variables.map((v, i) => ({ variable: v, value: row[i] }))))
    .attr("fill", "none")
    .attr("stroke", "#0000ff")
    .attr("stroke-width", 1);

  // Panel title (cluster number)
  g.append("text")
    .attr("x", p.width / 2).attr("y", -74)
    .attr("text-anchor", "middle")
    .attr("font-family", font).attr("font-size", 27)
    .text(clusterNames[ci]);

  // Vertical axis title
  g.append("text")
    .attr("transform", `translate(-134,${panelHeight / 2}) rotate(-90)`)
    .attr("text-anchor", "middle")
    .attr("font-family", font).attr("font-size", 20)
    .text("Index of Case");
});
</script>
</body>
</html>
